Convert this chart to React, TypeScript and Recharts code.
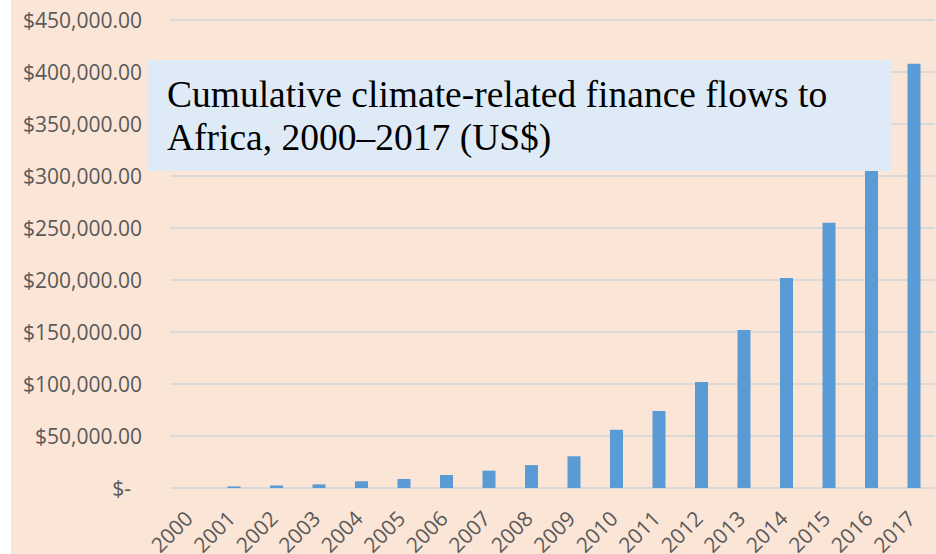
import { BarChart, Bar, XAxis, YAxis, CartesianGrid } from 'recharts';

const years = [
  '2000', '2001', '2002', '2003', '2004', '2005', '2006', '2007', '2008',
  '2009', '2010', '2011', '2012', '2013', '2014', '2015', '2016', '2017',
];
const cumulativeFlows = [
  0, 1500, 2400, 3500, 6500, 8700, 12500, 16700, 22000,
  30500, 56000, 74000, 102000, 152000, 202000, 255000, 305000, 408000,
];
const yTicks = [0, 50000, 100000, 150000, 200000, 250000, 300000, 350000, 400000, 450000];

const chartData = years.map((year, i) => ({ year, value: cumulativeFlows[i] }));

const TICK_FONT = '"Open Sans", sans-serif';
const TICK_COLOR = '#595959';

function formatMoney(v: number) {
  if (v === 0) return '$-';
  return '$' + v.toLocaleString('en-US', { minimumFractionDigits: 2, maximumFractionDigits: 2 });
}

function YTick({ x, y, payload }: any) {
  // accounting format: "$-" sits a little left of the other labels
  const shift = payload.value === 0 ? -11 : 0;
  return (
    <text x={x + shift} y={y} dy={7.5} textAnchor="end" fill={TICK_COLOR} fontSize={21} fontFamily={TICK_FONT}>
      {formatMoney(payload.value)}
    </text>
  );
}

function XTick({ x, y, payload }: any) {
  const ax = x + 3;
  const ay = y + 24;
  return (
    <text x={ax} y={ay} transform={`rotate(-45, ${ax}, ${ay})`} textAnchor="end" fill={TICK_COLOR} fontSize={21} fontFamily={TICK_FONT}>
      {payload.value}
    </text>
  );
}

export default function App() {
  return (
    <div style={{ position: 'absolute', left: 0, top: 0, width: 936, height: 554, background: '#fff' }}>
      <div style={{ position: 'absolute', left: 11, top: 0, width: 925, height: 554, background: '#FBE5D6' }}>
        <BarChart width={925} height={554} data={chartData} margin={{ top: 20, right: 1, left: 0, bottom: 0 }}>
          <CartesianGrid vertical={false} stroke="#D9D9D9" strokeWidth={2} />
          <XAxis
            dataKey="year"
            height={66}
            axisLine={false}
            tickLine={false}
            interval={0}
            tick={<XTick />}
          />
          <YAxis
            width={159}
            domain={[0, 450000]}
            ticks={yTicks}
            axisLine={false}
            tickLine={false}
            tickSize={0}
            tickMargin={28}
            tick={<YTick />}
          />
          <Bar dataKey="value" fill="#5B9BD5" barSize={13} isAnimationActive={false} />
        </BarChart>
        <div
          style={{
            position: 'absolute',
            left: 136,
            top: 60,
            width: 744,
            height: 111,
            background: '#DEEBF7',
            boxSizing: 'border-box',
            padding: '13px 0 0 20px',
            fontFamily: '"Liberation Serif", "Times New Roman", serif',
            fontSize: 37.5,
            lineHeight: '43px',
            color: '#000',
            whiteSpace: 'nowrap',
          }}
        >
          Cumulative climate-related finance flows to
          <br />
          Africa, 2000–2017 (US$)
        </div>
      </div>
    </div>
  );
}
